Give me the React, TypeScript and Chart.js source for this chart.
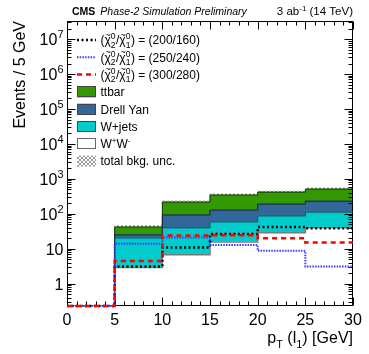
import React, { useEffect, useRef } from "react";
import { Chart, registerables } from "chart.js";

Chart.register(...registerables);

// ---------------- data ----------------
const BIN_EDGES = [0, 5, 10, 15, 20, 25, 30];
const WW = [0, 2.9, 6.7, 15.7, 28.5, 40];
const W_JETS = [0, 17.5, 33, 43, 58.5, 72];
const DRELL_YAN = [0, 4.5, 53, 69.5, 103, 118];
const TTBAR = [0, 17, 124, 216, 227, 280];
const BKG_UNC_REL = [0, 0.1, 0.08, 0.08, 0.08, 0.08];
const SIG_200_160 = [0, 3.1, 10.8, 26.5, 42, 38.6];
const SIG_250_240 = [0, 13.8, 21, 12.9, 8.7, 3.1];
const SIG_300_280 = [0, 4.5, 24, 24.5, 20, 15];
const SIGNAL_LABELS = ["200/160", "250/240", "300/280"];
const BKG_LABELS = ["ttbar", "Drell Yan", "W+jets"];
const X_MAJOR_TICKS = [0, 5, 10, 15, 20, 25, 30];
const X_MINOR_STEP = 1;
const Y_DECADES = [0, 1, 2, 3, 4, 5, 6, 7];
const X_MIN = 0;
const X_MAX = 30;
const Y_MIN = 0.23;
const Y_MAX = 3.3e7;

// ---------------- style ----------------
const FONT = '"Liberation Sans", Arial, Helvetica, sans-serif';
const C_TTBAR = "#339900";
const C_DY = "#336699";
const C_WJ = "#00cccc";
const C_WW = "#ffffff";
const OUTLINES = [
  { color: "#7a7a7a", width: 1.5 }, // WW
  { color: "#1f4a50", width: 1 }, // W+jets
  { color: "#16263a", width: 1 }, // DY
  { color: "#1b3510", width: 1 }, // ttbar
];
const SIG_STYLES = [
  { color: "#000000", width: 2.5, dash: [2, 2.5] },
  { color: "#3a3aff", width: 2, dash: [1.5, 1.2] },
  { color: "#ff0000", width: 2.5, dash: [5, 4] },
];

type Seg = {
  t?: string;
  size: number;
  dy?: number;
  weight?: string;
  style?: string;
  tilde?: boolean;
  stack?: [string, string];
  dx?: number;
};

function setFont(ctx: CanvasRenderingContext2D, s: Seg, size?: number) {
  ctx.font = `${s.style || "normal"} ${s.weight || "normal"} ${size ?? s.size}px ${FONT}`;
}

function segWidth(ctx: CanvasRenderingContext2D, s: Seg) {
  setFont(ctx, s);
  if (s.stack) {
    return Math.max(ctx.measureText(s.stack[0]).width, ctx.measureText(s.stack[1]).width) + 0.5;
  }
  return ctx.measureText(s.t || "").width + (s.dx || 0);
}

function segsWidth(ctx: CanvasRenderingContext2D, segs: Seg[]) {
  return segs.reduce((w, s) => w + segWidth(ctx, s), 0);
}

function drawSegs(
  ctx: CanvasRenderingContext2D,
  segs: Seg[],
  x: number,
  y: number,
  align: "left" | "right" = "left"
) {
  let cx = align === "right" ? x - segsWidth(ctx, segs) : x;
  ctx.textAlign = "left";
  ctx.textBaseline = "alphabetic";
  for (const s of segs) {
    const w = segWidth(ctx, s);
    setFont(ctx, s);
    if (s.stack) {
      ctx.fillText(s.stack[0], cx, y - s.size * 0.6);
      ctx.fillText(s.stack[1], cx, y + s.size * 0.38);
    } else {
      ctx.fillText(s.t || "", cx, y + (s.dy || 0));
      if (s.tilde) {
        const tw = w;
        setFont(ctx, s, s.size * 0.75);
        const tl = ctx.measureText("~").width;
        ctx.fillText("~", cx + (tw - tl) / 2 + 0.5, y - s.size * 0.55);
      }
    }
    cx += w;
  }
}

function makeHatch(): CanvasPattern | string {
  const c = document.createElement("canvas");
  c.width = 4;
  c.height = 4;
  const g = c.getContext("2d");
  if (!g) return "#bbbbbb";
  g.fillStyle = "#9a9a9a";
  for (let i = 0; i < 4; i++) {
    g.fillRect(i, i, 1, 1);
    g.fillRect(3 - i, i, 1, 1);
  }
  return g.createPattern(c, "repeat") || "#bbbbbb";
}

function drawFrame(chart: any) {
  const { ctx, chartArea: a, scales } = chart;
  const xs = scales.x;
  const ys = scales.y;
  ctx.save();
  ctx.strokeStyle = "#000";
  ctx.lineWidth = 1;
  ctx.setLineDash([]);
  const L = Math.round(a.left) + 0.5;
  const R = Math.round(a.right) - 0.5;
  const T = Math.round(a.top) + 0.5;
  const B = Math.round(a.bottom) - 0.5;
  ctx.beginPath();
  for (let v = X_MIN; v <= X_MAX + 1e-9; v += X_MINOR_STEP) {
    const px = Math.round(xs.getPixelForValue(v)) + 0.5;
    const len = X_MAJOR_TICKS.includes(v) ? 8 : 4;
    ctx.moveTo(px, B);
    ctx.lineTo(px, B - len);
    ctx.moveTo(px, T);
    ctx.lineTo(px, T + len);
  }
  for (let e = -1; e <= 8; e++) {
    for (let m = 1; m <= 9; m++) {
      const v = m * Math.pow(10, e);
      if (v < Y_MIN || v > Y_MAX) continue;
      const py = Math.round(ys.getPixelForValue(v)) + 0.5;
      const len = m === 1 ? 8 : 4;
      ctx.moveTo(L, py);
      ctx.lineTo(L + len, py);
      ctx.moveTo(R, py);
      ctx.lineTo(R - len, py);
    }
  }
  ctx.stroke();
  ctx.strokeRect(L, T, R - L, B - T);
  ctx.restore();
}

function drawTexts(chart: any) {
  const { ctx, chartArea: a, scales } = chart;
  const xs = scales.x;
  const ys = scales.y;
  ctx.save();
  ctx.fillStyle = "#000";
  ctx.font = `16px ${FONT}`;
  ctx.textAlign = "center";
  ctx.textBaseline = "alphabetic";
  for (const v of X_MAJOR_TICKS) {
    ctx.fillText(String(v), xs.getPixelForValue(v), a.bottom + 19);
  }
  for (const e of Y_DECADES) {
    const py = ys.getPixelForValue(Math.pow(10, e));
    const segs: Seg[] =
      e === 0
        ? [{ t: "1", size: 16 }]
        : e === 1
        ? [{ t: "10", size: 16 }]
        : [
            { t: "10", size: 16 },
            { t: String(e), size: 11, dy: -7 },
          ];
    drawSegs(ctx, segs, a.left - 3.5, py + 6, "right");
  }
  drawSegs(
    ctx,
    [
      { t: "p", size: 16 },
      { t: "T", size: 11, dy: 4.5 },
      { t: " (l", size: 16 },
      { t: "1", size: 11, dy: 4.5 },
      { t: ") [GeV]", size: 16 },
    ],
    a.right,
    a.bottom + 37,
    "right"
  );
  ctx.save();
  ctx.translate(25, a.top);
  ctx.rotate(-Math.PI / 2);
  ctx.font = `16px ${FONT}`;
  ctx.textAlign = "right";
  ctx.fillText("Events / 5 GeV", 0, 0);
  ctx.restore();
  const cmsSeg: Seg = { t: "CMS", size: 10.5, weight: "bold" };
  drawSegs(ctx, [cmsSeg], a.left + 5, 15);
  const cmsW = segWidth(ctx, cmsSeg);
  drawSegs(
    ctx,
    [{ t: "Phase-2 Simulation Preliminary", size: 10.5, style: "italic" }],
    a.left + 5 + cmsW + 5,
    15
  );
  drawSegs(
    ctx,
    [
      { t: "3 ab", size: 11.5 },
      { t: "-1", size: 8, dy: -4.5 },
      { t: " (14 TeV)", size: 11.5 },
    ],
    a.right,
    15,
    "right"
  );
  ctx.restore();
}

function drawLegend(chart: any, hatch: CanvasPattern | string) {
  const { ctx } = chart;
  const x0 = 77;
  const x1 = 96;
  const tx = 100.5;
  const y0 = 40;
  const dy = 17.3;
  ctx.save();
  let row = 0;
  SIGNAL_LABELS.forEach((lab, i) => {
    const cy = y0 + dy * row;
    const st = SIG_STYLES[i];
    ctx.strokeStyle = st.color;
    ctx.lineWidth = st.width;
    ctx.setLineDash(st.dash);
    ctx.beginPath();
    ctx.moveTo(x0, cy);
    ctx.lineTo(x1, cy);
    ctx.stroke();
    ctx.setLineDash([]);
    ctx.fillStyle = "#000";
    drawSegs(
      ctx,
      [
        { t: "(", size: 12 },
        { t: "χ", size: 12, tilde: true },
        { stack: ["0", "2"], size: 8.5 },
        { t: "/", size: 12 },
        { t: "χ", size: 12, tilde: true },
        { stack: ["0", "1"], size: 8.5 },
        { t: `) = (${lab})`, size: 12 },
      ],
      tx,
      cy + 4.3
    );
    row++;
  });
  const boxes: { fill: any; border: string | null; segs: Seg[] }[] = [
    { fill: C_TTBAR, border: "#444", segs: [{ t: BKG_LABELS[0], size: 12 }] },
    { fill: C_DY, border: "#444", segs: [{ t: BKG_LABELS[1], size: 12 }] },
    { fill: C_WJ, border: "#444", segs: [{ t: BKG_LABELS[2], size: 12 }] },
    {
      fill: C_WW,
      border: "#666",
      segs: [
        { t: "W", size: 12 },
        { t: "+", size: 8, dy: -5 },
        { t: "W", size: 12 },
        { t: "-", size: 8, dy: -5 },
      ],
    },
    { fill: hatch, border: null, segs: [{ t: "total bkg. unc.", size: 12 }] },
  ];
  for (const b of boxes) {
    const cy = y0 + dy * row;
    ctx.fillStyle = b.fill;
    ctx.fillRect(x0, cy - 5.5, x1 - x0, 11);
    if (b.border) {
      ctx.strokeStyle = b.border;
      ctx.lineWidth = 1;
      ctx.strokeRect(x0 + 0.5, Math.round(cy - 5.5) + 0.5, x1 - x0 - 1, 10);
    }
    ctx.fillStyle = "#000";
    drawSegs(ctx, b.segs, tx, cy + 4.3);
    row++;
  }
  ctx.restore();
}

export default function App() {
  const ref = useRef<HTMLCanvasElement>(null);

  useEffect(() => {
    const canvas = ref.current;
    if (!canvas) return;
    const hatch = makeHatch();
    const centers = BIN_EDGES.slice(0, -1).map((e, i) => (e + BIN_EDGES[i + 1]) / 2);
    const barData = (arr: number[]) =>
      arr.map((v, i) => ({ x: centers[i], y: v > 0 ? v : null }));
    const components = [WW, W_JETS, DRELL_YAN, TTBAR];
    const cumulative = components.map((_, k) =>
      centers.map((__, i) => components.slice(0, k + 1).reduce((s, arr) => s + arr[i], 0))
    );
    const totals = cumulative[cumulative.length - 1];
    const uncData = totals
      .map((t, i) => ({ x: centers[i], y: [t * (1 - BKG_UNC_REL[i]), t * (1 + BKG_UNC_REL[i])] }))
      .filter((_, i) => totals[i] > 0);
    const stepData = (arr: number[]) => [
      ...BIN_EDGES.slice(0, -1).map((e, i) => ({ x: e, y: arr[i] > 0 ? arr[i] : Y_MIN })),
      {
        x: BIN_EDGES[BIN_EDGES.length - 1],
        y: arr[arr.length - 1] > 0 ? arr[arr.length - 1] : Y_MIN,
      },
    ];
    const barCommon = {
      type: "bar" as const,
      stack: "bkg",
      order: 2,
      grouped: false,
      barPercentage: 1,
      categoryPercentage: 1,
      borderWidth: 0,
    };
    const sigs = [SIG_200_160, SIG_250_240, SIG_300_280];

    const chart = new Chart(canvas, {
      type: "bar",
      data: {
        datasets: [
          {
            type: "bar",
            label: "unc",
            data: uncData as any,
            stack: "unc",
            order: 3,
            grouped: false,
            barPercentage: 1,
            categoryPercentage: 1,
            backgroundColor: hatch as any,
            borderWidth: 0,
          },
          { ...barCommon, label: "WW", data: barData(WW) as any, backgroundColor: C_WW },
          { ...barCommon, label: "W+jets", data: barData(W_JETS) as any, backgroundColor: C_WJ },
          { ...barCommon, label: "Drell Yan", data: barData(DRELL_YAN) as any, backgroundColor: C_DY },
          { ...barCommon, label: "ttbar", data: barData(TTBAR) as any, backgroundColor: C_TTBAR },
          ...cumulative.map((arr, k) => ({
            type: "line" as const,
            label: "outline" + k,
            data: stepData(arr) as any,
            stack: "outline" + k,
            order: 1,
            stepped: "before" as const,
            borderColor: OUTLINES[k].color,
            borderWidth: OUTLINES[k].width,
            pointRadius: 0,
            fill: false,
            tension: 0,
          })),
          ...sigs.map((arr, i) => ({
            type: "line" as const,
            label: SIGNAL_LABELS[i],
            data: stepData(arr) as any,
            stack: "sig" + i,
            order: 0.5 - i * 0.2,
            stepped: "before" as const,
            borderColor: SIG_STYLES[i].color,
            borderWidth: SIG_STYLES[i].width,
            borderDash: SIG_STYLES[i].dash,
            pointRadius: 0,
            fill: false,
            tension: 0,
            clip: { left: 0, top: 0, right: 0, bottom: 3 },
          })),
        ] as any,
      },
      options: {
        responsive: false,
        animation: false,
        devicePixelRatio: 1,
        events: [],
        layout: { padding: { left: 67, right: 16, top: 21, bottom: 48 } },
        plugins: {
          legend: { display: false },
          tooltip: { enabled: false },
          title: { display: false },
        },
        scales: {
          x: {
            type: "linear",
            min: X_MIN,
            max: X_MAX,
            display: false,
            offset: false,
            ticks: { stepSize: 5 },
            grid: { offset: false },
          },
          y: {
            type: "logarithmic",
            min: Y_MIN,
            max: Y_MAX,
            display: false,
            stacked: true,
            bounds: "data",
          },
        },
      },
      plugins: [
        {
          id: "rootStyle",
          beforeDatasetsDraw(c: any) {
            c.$frameDone = false;
          },
          beforeDatasetDraw(c: any, args: any) {
            const ds = c.data.datasets[args.index];
            if (ds.type === "line" && !c.$frameDone) {
              drawFrame(c);
              c.$frameDone = true;
            }
          },
          afterDatasetsDraw(c: any) {
            if (!c.$frameDone) {
              drawFrame(c);
              c.$frameDone = true;
            }
          },
          afterDraw(c: any) {
            drawTexts(c);
            drawLegend(c, hatch);
          },
        } as any,
      ],
    });
    return () => chart.destroy();
  }, []);

  return (
    <div style={{ position: "fixed", left: 0, top: 0, width: 369, height: 354, background: "#fff" }}>
      <canvas ref={ref} width={369} height={354} style={{ width: 369, height: 354, display: "block" }} />
    </div>
  );
}
